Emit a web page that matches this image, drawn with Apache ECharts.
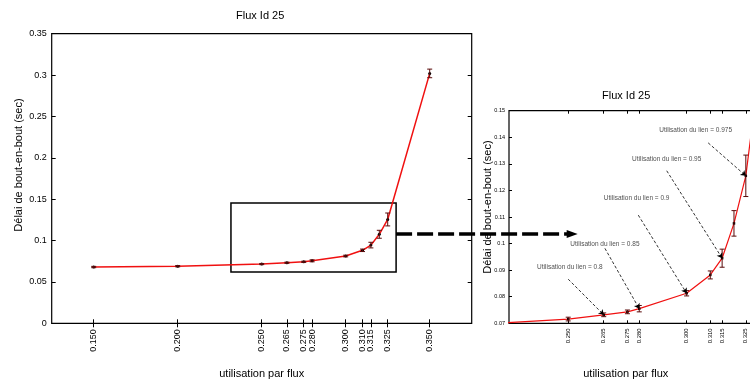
<!DOCTYPE html>
<html>
<head>
<meta charset="utf-8">
<script src="https://cdn.jsdelivr.net/npm/echarts@6/dist/echarts.min.js"></script>
<style>
  html, body { margin: 0; padding: 0; background: #fff; }
</style>
</head>
<body>
<div id="container" style="width:750px; height:380px"></div>
<script>
// utilisation par flux -> délai de bout-en-bout (sec), with error (half width)
var utilisation = [0.150, 0.200, 0.250, 0.265, 0.275, 0.280, 0.300, 0.310, 0.315, 0.320, 0.325, 0.350];
var delai = [0.068, 0.069, 0.0716, 0.0732, 0.0743, 0.0755, 0.0813, 0.0882, 0.0945, 0.1076, 0.1255, 0.302];
var erreur = [0.0008, 0.0008, 0.0007, 0.0007, 0.0007, 0.0012, 0.0010, 0.0015, 0.0034, 0.0048, 0.0078, 0.0052];
var xTicks = [0.150, 0.200, 0.250, 0.265, 0.275, 0.280, 0.300, 0.310, 0.315, 0.325, 0.350];

// annotations of the zoom (utilisation du lien)
var lienLabels = ['0.8', '0.85', '0.9', '0.95', '0.975'];
var lienTarget = [3, 5, 6, 8, 10]; // index in utilisation
var lienFrom = [[0.2500, 0.0866], [0.2655, 0.0982], [0.2796, 0.1107], [0.2916, 0.1274], [0.3091, 0.1379]];
var lienText = [[0.2507, 0.0912], [0.2655, 0.0998], [0.2789, 0.1170], [0.2916, 0.1318], [0.3038, 0.1425]];

// box drawn on the main chart + big arrow
var zoomBox = [[0.2317, 0.1454], [0.330, 0.062]];
var arrowY = 0.108;
var arrowEndX = 0.254;

var font = "'Liberation Sans', Arial, sans-serif";

var points = utilisation.map(function (x, i) { return [x, delai[i]]; });
var errPoints = utilisation.map(function (x, i) { return [x, delai[i], erreur[i]]; });

function errBars(params, api) {
  var x = api.value(0), y = api.value(1), e = api.value(2);
  var cs = params.coordSys;
  var p = api.coord([x, y]);
  if (p[0] < cs.x - 0.5 || p[0] > cs.x + cs.width + 0.5) return null;
  var t = api.coord([x, y + e]);
  var b = api.coord([x, y - e]);
  var w = 2.5;
  var st = { stroke: '#5a0a0a', lineWidth: 1 };
  return {
    type: 'group',
    children: [
      { type: 'line', shape: { x1: p[0], y1: t[1], x2: p[0], y2: b[1] }, style: st },
      { type: 'line', shape: { x1: p[0] - w, y1: t[1], x2: p[0] + w, y2: t[1] }, style: st },
      { type: 'line', shape: { x1: p[0] - w, y1: b[1], x2: p[0] + w, y2: b[1] }, style: st }
    ]
  };
}

var mainGrid = { left: 51.7, top: 33.7, width: 420, height: 289.6, outerBoundsMode: 'none', containLabel: false, show: true, borderColor: '#000', borderWidth: 1.2, backgroundColor: 'transparent' };
var insetGrid = { left: 509, top: 110.7, width: 260.5, height: 212.6, outerBoundsMode: 'none', containLabel: false, show: true, borderColor: '#000', borderWidth: 1.2, backgroundColor: 'transparent' };

function fmt3(v) { return v.toFixed(3); }

var option = {
  animation: false,
  backgroundColor: '#fff',
  textStyle: { fontFamily: font },
  title: [
    { text: 'Flux Id 25', left: 231, top: 5, textStyle: { fontSize: 11, fontWeight: 'normal', color: '#000', fontFamily: font } },
    { text: 'Flux Id 25', left: 597, top: 85, textStyle: { fontSize: 11, fontWeight: 'normal', color: '#000', fontFamily: font } }
  ],
  grid: [mainGrid, insetGrid],
  xAxis: [
    {
      gridIndex: 0, type: 'value', min: 0.125, max: 0.375,
      name: 'utilisation par flux', nameLocation: 'middle', nameGap: 45,
      nameTextStyle: { fontSize: 11, color: '#000', fontFamily: font },
      axisLine: { show: false },
      axisTick: { show: true, inside: true, length: 4, customValues: xTicks, lineStyle: { color: '#000' } },
      axisLabel: { show: true, customValues: xTicks, formatter: fmt3, rotate: 90, fontSize: 9, color: '#000', margin: 6, fontFamily: font },
      splitLine: { show: false }
    },
    {
      gridIndex: 0, type: 'value', position: 'top', min: 0.125, max: 0.375,
      axisLine: { show: false },
      axisTick: { show: true, inside: true, length: 4, customValues: xTicks, lineStyle: { color: '#000' } },
      axisLabel: { show: false },
      splitLine: { show: false }
    },
    {
      gridIndex: 1, type: 'value', min: 0.225, max: 0.335,
      name: 'utilisation par flux', nameLocation: 'middle', nameGap: 45,
      nameTextStyle: { fontSize: 11, color: '#000', fontFamily: font, padding: [0, 27, 0, 0] },
      axisLine: { show: false },
      axisTick: { show: true, inside: true, length: 3, customValues: xTicks, lineStyle: { color: '#000' } },
      axisLabel: { show: true, customValues: xTicks, formatter: fmt3, rotate: 90, fontSize: 6, color: '#000', margin: 5, fontFamily: font },
      splitLine: { show: false }
    },
    {
      gridIndex: 1, type: 'value', position: 'top', min: 0.225, max: 0.335,
      axisLine: { show: false },
      axisTick: { show: true, inside: true, length: 3, customValues: xTicks, lineStyle: { color: '#000' } },
      axisLabel: { show: false },
      splitLine: { show: false }
    }
  ],
  yAxis: [
    {
      gridIndex: 0, type: 'value', min: 0, max: 0.35, interval: 0.05,
      name: 'Délai de bout-en-bout (sec)', nameLocation: 'middle', nameGap: 27, nameMoveOverlap: false,
      nameTextStyle: { fontSize: 11, color: '#000', fontFamily: font, padding: [0, 0, 0, 27] },
      axisLine: { show: false },
      axisTick: { show: true, inside: true, length: 4, lineStyle: { color: '#000' } },
      axisLabel: { fontSize: 9, color: '#000', margin: 5, fontFamily: font },
      splitLine: { show: false }
    },
    {
      gridIndex: 0, type: 'value', position: 'right', min: 0, max: 0.35, interval: 0.05,
      axisLine: { show: false },
      axisTick: { show: true, inside: true, length: 4, lineStyle: { color: '#000' } },
      axisLabel: { show: false },
      splitLine: { show: false }
    },
    {
      gridIndex: 1, type: 'value', min: 0.07, max: 0.15, interval: 0.01,
      name: 'Délai de bout-en-bout (sec)', nameLocation: 'middle', nameGap: 16, nameMoveOverlap: false,
      nameTextStyle: { fontSize: 11, color: '#000', fontFamily: font, padding: [0, 0, 0, 20] },
      axisLine: { show: false },
      axisTick: { show: true, inside: true, length: 3, lineStyle: { color: '#000' } },
      axisLabel: { fontSize: 5.5, color: '#000', margin: 4, fontFamily: font },
      splitLine: { show: false }
    },
    {
      gridIndex: 1, type: 'value', position: 'right', min: 0.07, max: 0.15, interval: 0.01,
      axisLine: { show: false },
      axisTick: { show: true, inside: true, length: 3, lineStyle: { color: '#000' } },
      axisLabel: { show: false },
      splitLine: { show: false }
    }
  ],
  series: [
    {
      type: 'line', xAxisIndex: 0, yAxisIndex: 0, data: points,
      symbol: 'circle', symbolSize: 3, showSymbol: true,
      lineStyle: { color: '#f01010', width: 1.5 },
      itemStyle: { color: '#000' },
      z: 3,
      markArea: {
        silent: true,
        itemStyle: { color: 'rgba(0,0,0,0)', borderColor: '#000', borderWidth: 1.5 },
        data: [[{ coord: zoomBox[0] }, { coord: zoomBox[1] }]]
      }
    },
    {
      type: 'custom', xAxisIndex: 0, yAxisIndex: 0, data: errPoints,
      renderItem: errBars, z: 4, silent: true
    },
    {
      type: 'line', xAxisIndex: 2, yAxisIndex: 2, data: points, clip: true,
      symbol: 'rect', symbolSize: 2.5, showSymbol: true,
      lineStyle: { color: '#f01010', width: 1.2 },
      itemStyle: { color: '#000' },
      z: 3,
      markLine: {
        silent: true,
        symbol: ['none', 'arrow'],
        symbolSize: 5,
        label: { show: false },
        lineStyle: { color: '#000', width: 0.8, type: [3, 2] },
        data: lienFrom.map(function (f, i) {
          var k = lienTarget[i];
          return [{ coord: f }, { coord: [utilisation[k], delai[k]] }];
        })
      }
    },
    {
      type: 'custom', xAxisIndex: 2, yAxisIndex: 2, data: errPoints,
      renderItem: errBars, z: 4, silent: true
    },
    {
      type: 'scatter', xAxisIndex: 2, yAxisIndex: 2,
      symbolSize: 0.1, itemStyle: { color: 'rgba(0,0,0,0)' }, silent: true,
      data: lienText.map(function (p, i) {
        return { value: p, name: 'Utilisation du lien = ' + lienLabels[i] };
      }),
      label: {
        show: true, position: 'inside', formatter: '{b}',
        fontSize: 6.5, color: '#222', fontFamily: font
      }
    }
  ]
};

var myChart = echarts.init(document.getElementById('container'), null, { renderer: 'canvas' });
myChart.setOption(option);

// big dashed arrow from the box on the main chart to the zoomed chart
var start = myChart.convertToPixel({ gridIndex: 0 }, [zoomBox[1][0], arrowY]);
var endX = myChart.convertToPixel({ gridIndex: 1 }, [arrowEndX, 0.1])[0];
var headLen = 11;
myChart.setOption({
  graphic: [
    {
      type: 'line', z: 10,
      shape: { x1: start[0], y1: start[1], x2: endX - headLen + 1, y2: start[1] },
      style: { stroke: '#000', lineWidth: 3.5, lineDash: [16, 5] }
    },
    {
      type: 'polygon', z: 10,
      shape: { points: [[endX - headLen, start[1] - 4], [endX, start[1]], [endX - headLen, start[1] + 4]] },
      style: { fill: '#000' }
    }
  ]
});
</script>
</body>
</html>
